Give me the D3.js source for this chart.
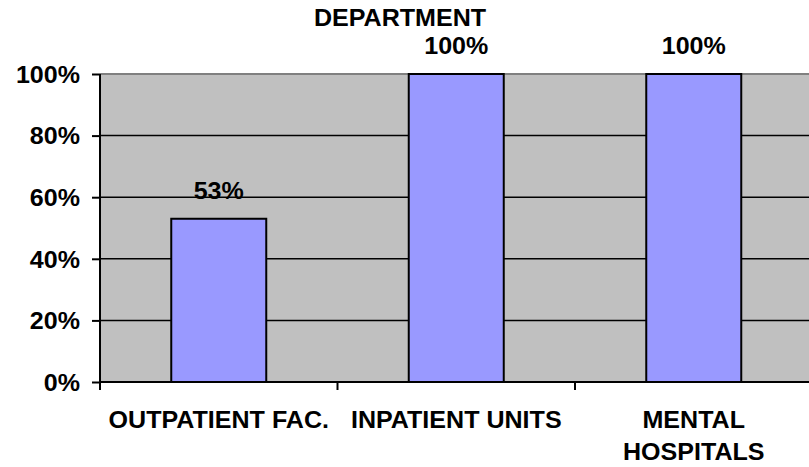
<!DOCTYPE html>
<html>
<head>
<meta charset="utf-8">
<script src="https://cdn.jsdelivr.net/npm/d3@7"></script>
<style>
  body { margin: 0; background: #fff; }
  text { font-family: "Liberation Sans", Arial, sans-serif; font-weight: bold; fill: #000; }
</style>
</head>
<body>
<svg id="chart" width="809" height="467"></svg>
<script>
const categories = ['OUTPATIENT FAC.', 'INPATIENT UNITS', 'MENTAL HOSPITALS'];
const categoryLines = [['OUTPATIENT FAC.'], ['INPATIENT UNITS'], ['MENTAL', 'HOSPITALS']];
const values = [0.53, 1.00, 1.00];
const valueLabels = ['53%', '100%', '100%'];
const yTicks = [0, 0.2, 0.4, 0.6, 0.8, 1.0];
const title = 'DEPARTMENT';

const width = 809, height = 467;
const fontSize = 23, stretch = 1.09;
const plotLeft = 100, plotRight = 812.5, plotTop = 74, plotBottom = 382;

const svg = d3.select('#chart');

// scales
const x = d3.scaleBand().domain(categories).range([plotLeft, plotRight]).paddingInner(0).paddingOuter(0);
const y = d3.scaleLinear().domain([0, 1]).range([plotBottom, plotTop]);

// plot background
svg.append('rect')
  .attr('x', plotLeft).attr('y', plotTop)
  .attr('width', plotRight - plotLeft).attr('height', plotBottom - plotTop)
  .attr('fill', '#C0C0C0');

// gridlines
svg.append('g').selectAll('line')
  .data(yTicks.filter(d => d > 0))
  .join('line')
  .attr('x1', plotLeft).attr('x2', plotRight)
  .attr('y1', d => y(d)).attr('y2', d => y(d))
  .attr('stroke', d => d === 1 ? '#808080' : '#000')
  .attr('stroke-width', d => d === 1 ? 2 : 1.5);

// bars
const bw = x.bandwidth();
svg.append('g').selectAll('rect')
  .data(values)
  .join('rect')
  .attr('x', (d, i) => x(categories[i]) + bw * 0.3)
  .attr('width', bw * 0.4)
  .attr('y', d => y(d))
  .attr('height', d => plotBottom - y(d))
  .attr('fill', '#9999FF')
  .attr('stroke', '#000')
  .attr('stroke-width', 2);

// helper for horizontally stretched text
function stretchedText(g, tx, ty, str, anchor) {
  return g.append('text')
    .attr('transform', `translate(${tx},${ty}) scale(${stretch},1)`)
    .attr('text-anchor', anchor || 'middle')
    .style('font-size', fontSize + 'px')
    .text(str);
}

// y axis
const yAxis = d3.axisLeft(y).tickValues(yTicks).tickFormat(d3.format('.0%')).tickSize(8).tickPadding(8);
const ya = svg.append('g').attr('transform', `translate(${plotLeft},0)`).call(yAxis);
ya.select('.domain').remove();
ya.selectAll('.tick line').attr('stroke', '#000').attr('stroke-width', 2);
ya.selectAll('.tick text')
  .style('font-size', fontSize + 'px')
  .attr('x', null)
  .attr('transform', `translate(-20,0) scale(${stretch},1)`)
  .attr('dy', '0.36em');
svg.append('line')
  .attr('x1', plotLeft).attr('x2', plotLeft).attr('y1', plotTop).attr('y2', plotBottom)
  .attr('stroke', '#000').attr('stroke-width', 2);

// x axis
svg.append('line')
  .attr('x1', plotLeft).attr('x2', plotRight).attr('y1', plotBottom).attr('y2', plotBottom)
  .attr('stroke', '#000').attr('stroke-width', 2);
svg.append('g').selectAll('line')
  .data(categories)
  .join('line')
  .attr('x1', d => x(d)).attr('x2', d => x(d))
  .attr('y1', plotBottom).attr('y2', plotBottom + 8)
  .attr('stroke', '#000').attr('stroke-width', 2);

// category labels
const xl = svg.append('g');
categoryLines.forEach((lines, i) => {
  lines.forEach((ln, j) => {
    stretchedText(xl, x(categories[i]) + bw / 2, 428 + j * 32, ln);
  });
});

// value labels
const vl = svg.append('g');
values.forEach((v, i) => {
  stretchedText(vl, x(categories[i]) + bw / 2, y(v) - 20, valueLabels[i]);
});

// title
stretchedText(svg, 400, 26, title);
</script>
</body>
</html>
